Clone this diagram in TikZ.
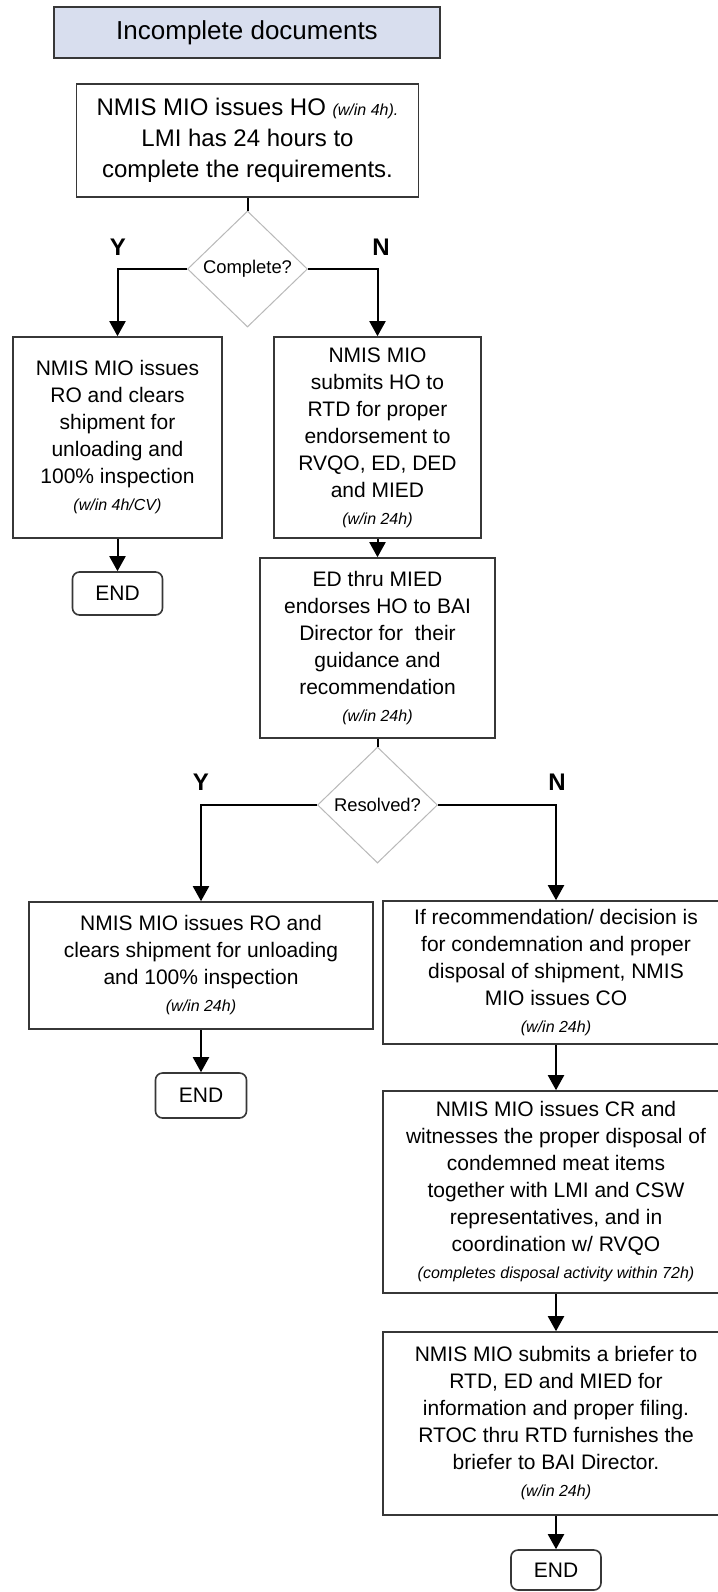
\documentclass[tikz,border=0pt]{standalone}
\usepackage{fontspec}
\setmainfont{Liberation Sans}
\usetikzlibrary{shapes.geometric,arrows.meta}

\definecolor{titlefill}{RGB}{216,222,238}
\definecolor{boxline}{RGB}{55,55,55}
\newcommand{\timenote}[1]{{\fontsize{8}{10}\selectfont\itshape (#1)}}

\begin{document}
\begin{tikzpicture}[x=0.5pt,y=-0.5pt,
    stepbox/.style={draw=boxline,line width=0.8pt,fill=white,align=center,inner sep=0pt,
        font=\fontsize{10.5}{13.5}\selectfont},
    endbox/.style={draw=boxline,line width=0.8pt,rounded corners=3.5pt,fill=white,
        minimum width=45pt,minimum height=21.5pt,inner sep=0pt,font=\fontsize{10.5}{12}\selectfont},
    decision/.style={diamond,draw=gray!55,line width=0.5pt,fill=white,
        minimum width=60pt,minimum height=58pt,inner sep=0pt,font=\fontsize{9.2}{11}\selectfont},
    answer/.style={font=\bfseries\fontsize{12}{14}\selectfont},
    flow/.style={line width=1pt,-{Triangle[length=7.5pt,width=8pt]}},
    link/.style={line width=1pt}
    ]
    \useasboundingbox (0,0) rectangle (718,1592);
    \clip (0,0) rectangle (718,1592);
    \fill[white] (0,0) rectangle (718,1592);

    % header and first check
    \node[stepbox,fill=titlefill,minimum width=193pt,minimum height=25.5pt,
        font=\fontsize{13}{15}\selectfont] (title) at (247,32.5) {Incomplete documents};
    \node[stepbox,minimum width=171pt,minimum height=56.5pt,font=\fontsize{12}{15.5}\selectfont]
        (issueho) at (247.5,140.5)
        {NMIS MIO issues HO {\fontsize{8}{10}\selectfont\itshape (w/in 4h).}\\LMI has 24 hours to\\complete the requirements.};
    \node[decision] (complete) at (247.5,269) {Complete?};
    \node[answer] (yesone) at (118,247) {Y};
    \node[answer] (noone) at (381,247) {N};

    % Y / N after first check
    \node[stepbox,minimum width=104.5pt,minimum height=100.5pt] (releaseone) at (117.5,437.5)
        {NMIS MIO issues\\RO and clears\\shipment for\\unloading and\\100\% inspection\\\timenote{w/in 4h/CV}};
    \node[stepbox,minimum width=103.5pt,minimum height=100.5pt] (submitho) at (377.5,437.5)
        {NMIS MIO\\submits HO to\\RTD for proper\\endorsement to\\RVQO, ED, DED\\and MIED\\\timenote{w/in 24h}};
    \node[endbox] (endone) at (117.5,593.5) {END};
    \node[stepbox,minimum width=117.5pt,minimum height=90pt] (endorse) at (377.5,648)
        {ED thru MIED\\endorses HO to BAI\\Director for\ \ their\\guidance and\\recommendation\\\timenote{w/in 24h}};

    % second check
    \node[decision] (resolved) at (377.5,805) {Resolved?};
    \node[answer] (yestwo) at (201,782) {Y};
    \node[answer] (notwo) at (557,782) {N};

    \node[stepbox,minimum width=172pt,minimum height=63.5pt] (releasetwo) at (201,965.5)
        {NMIS MIO issues RO and\\clears shipment for unloading\\and 100\% inspection\\\timenote{w/in 24h}};
    \node[stepbox,minimum width=173pt,minimum height=71.5pt] (condemn) at (556,972.5)
        {If recommendation/ decision is\\for condemnation and proper\\disposal of shipment, NMIS\\MIO issues CO\\\timenote{w/in 24h}};
    \node[endbox,minimum width=45.5pt,minimum height=22.5pt] (endtwo) at (201,1095.5) {END};
    \node[stepbox,minimum width=173pt,minimum height=101pt] (disposal) at (556,1192)
        {NMIS MIO issues CR and\\witnesses the proper disposal of\\condemned meat items\\together with LMI and CSW\\representatives, and in\\coordination w/ RVQO\\\timenote{completes disposal activity within 72h}};
    \node[stepbox,minimum width=173pt,minimum height=91.5pt] (briefer) at (556,1423.5)
        {NMIS MIO submits a briefer to\\RTD, ED and MIED for\\information and proper filing.\\RTOC thru RTD furnishes the\\briefer to BAI Director.\\\timenote{w/in 24h}};
    \node[endbox,minimum height=20pt] (endthree) at (556,1570) {END};

    % connectors
    \draw[link] (issueho) -- (complete);
    \draw[flow] (complete.west) -| (releaseone.north);
    \draw[flow] (complete.east) -| (submitho.north);
    \draw[flow] (releaseone) -- (endone);
    \draw[flow] (submitho) -- (endorse);
    \draw[link] (endorse) -- (resolved);
    \draw[flow] (resolved.west) -| (releasetwo.north);
    \draw[flow] (resolved.east) -| (condemn.north);
    \draw[flow] (releasetwo) -- (endtwo);
    \draw[flow] (condemn) -- (disposal);
    \draw[flow] (disposal) -- (briefer);
    \draw[flow] (briefer) -- (endthree);
\end{tikzpicture}
\end{document}
